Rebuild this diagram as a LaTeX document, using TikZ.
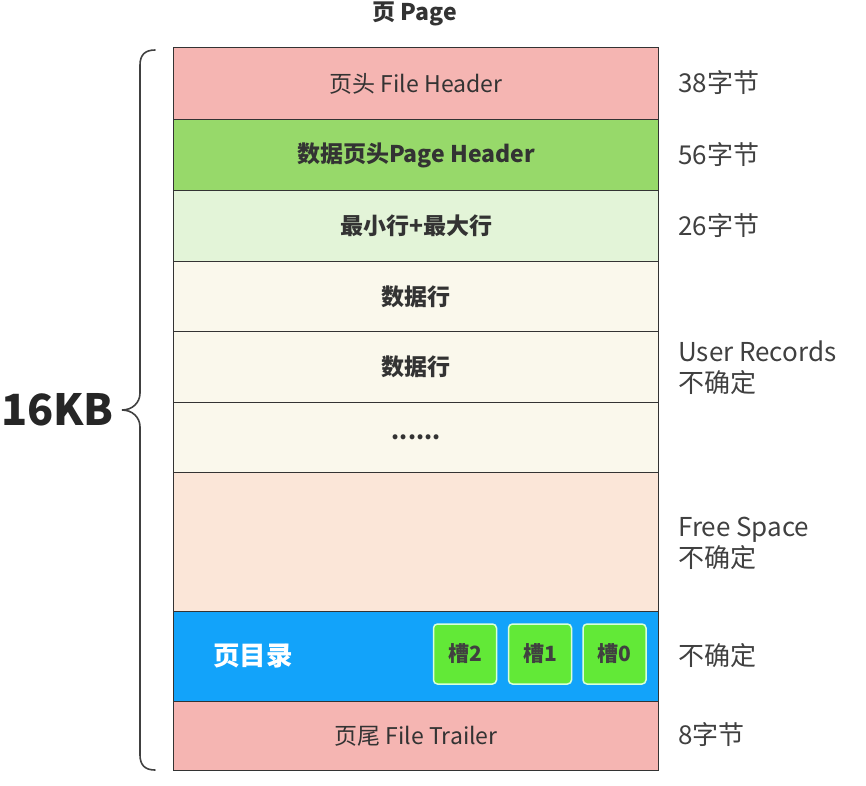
\documentclass[tikz,border=0pt]{standalone}
\usepackage{fontspec}
\setmainfont{Noto Sans CJK SC}
\begin{document}
\begin{tikzpicture}[x=1pt,y=-1pt,
  row/.style={draw=black!80,line width=1.2pt,minimum width=485pt,inner sep=0pt,anchor=north west,text=black!80},
  cellf/.style={font=\fontsize{23}{27}\selectfont},
  cellb/.style={font=\fontsize{23}{27}\selectfont\bfseries},
  lab/.style={anchor=west,font=\fontsize{26}{31}\selectfont,text=black!75,align=left,inner sep=0pt},
  slot/.style={draw=green!15!white,line width=1.5pt,fill=slotg,rounded corners=4pt,minimum width=63pt,minimum height=60pt,inner sep=0pt,font=\fontsize{21}{24}\selectfont\bfseries,text=black!75}]
\definecolor{fh}{HTML}{F5B5B2}
\definecolor{ph}{HTML}{97D96A}
\definecolor{mm}{HTML}{E3F4D8}
\definecolor{dr}{HTML}{FAF8EC}
\definecolor{fs}{HTML}{FBE6D8}
\definecolor{pd}{HTML}{12A3FA}
\definecolor{slotg}{HTML}{62E937}
\useasboundingbox (0,0) rectangle (866,785);
\node[font=\fontsize{23}{26}\selectfont\bfseries,text=black!80] (title) at (415,14) {页 Page};
\node[row,fill=fh,minimum height=72pt,cellf] (r1) at (173,47) {页头 File Header};
\node[row,fill=ph,minimum height=71pt,cellb] (r2) at (173,119) {数据页头Page Header};
\node[row,fill=mm,minimum height=71pt,cellb] (r3) at (173,190) {最小行+最大行};
\node[row,fill=dr,minimum height=70pt,cellb] (r4) at (173,261) {数据行};
\node[row,fill=dr,minimum height=71pt,cellb] (r5) at (173,331) {数据行};
\node[row,fill=dr,minimum height=70pt,cellb] (r6) at (173,402) {......};
\node[row,fill=fs,minimum height=139pt] (r7) at (173,472) {};
\node[row,fill=pd,minimum height=90pt] (r8) at (173,611) {};
\node[row,fill=fh,minimum height=69pt,cellf] (r9) at (173,701) {页尾 File Trailer};
\node[font=\fontsize{26.5}{30}\selectfont\bfseries,text=white] (dir) at (253,656) {页目录};
\node[slot] (s2) at (465,654) {槽2};
\node[slot] (s1) at (540,654) {槽1};
\node[slot] (s0) at (614.5,654) {槽0};
\node[lab] (l1) at (678,83) {38字节};
\node[lab] (l2) at (678,155) {56字节};
\node[lab] (l3) at (678,226) {26字节};
\node[lab] (l4) at (678,368) {User Records\\不确定};
\node[lab] (l5) at (678,543) {Free Space\\不确定};
\node[lab] (l6) at (678,656) {不确定};
\node[lab] (l7) at (678,734) {8字节};
\node[font=\fontsize{43}{47}\selectfont\bfseries,text=black!85,anchor=east,inner sep=0pt] (kb) at (114,410) {16KB};
\draw[black!75,line width=1.6pt,line cap=round]
  (155,50) .. controls (145,50) and (140,55) .. (140,65) -- (140,393)
  .. controls (140,403) and (132,410) .. (122,410)
  .. controls (132,410) and (140,417) .. (140,427) -- (140,755)
  .. controls (140,765) and (145,770) .. (155,770);
\end{tikzpicture}
\end{document}
